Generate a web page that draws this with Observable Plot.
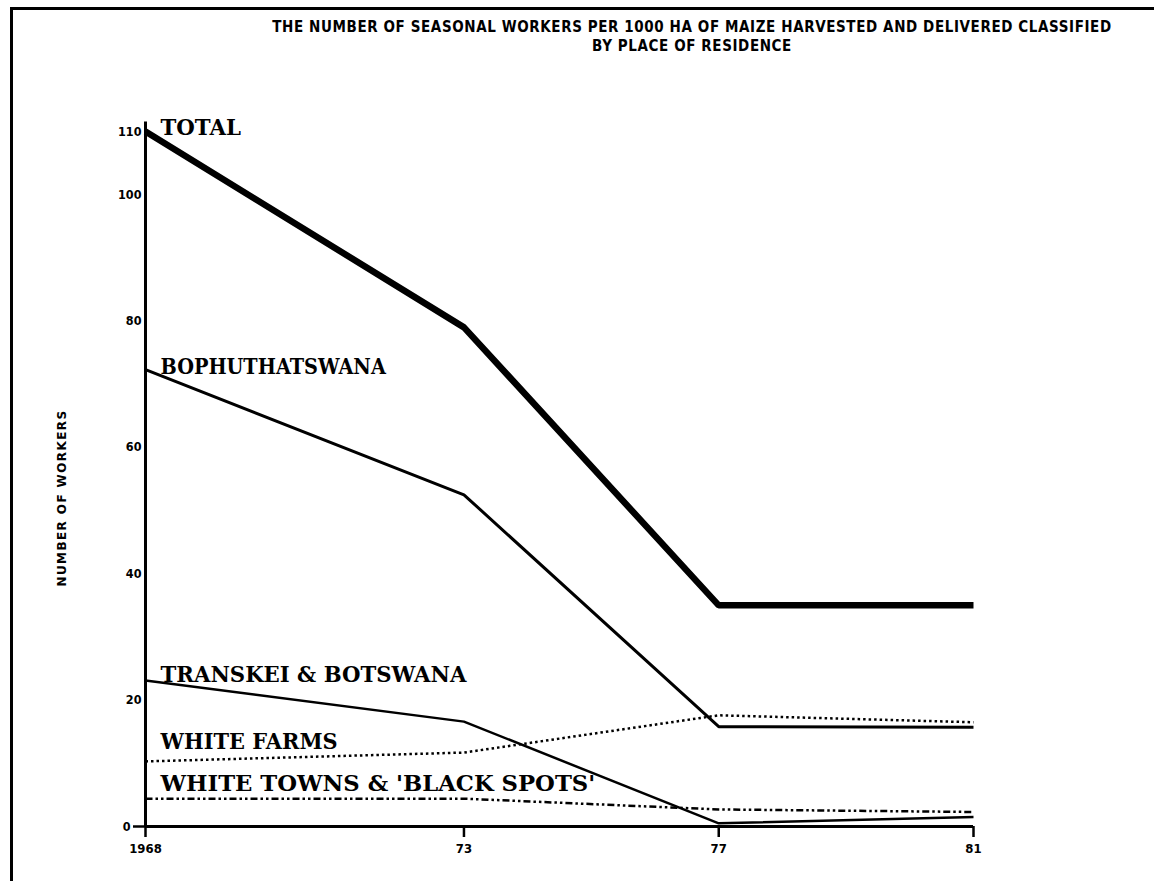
<!DOCTYPE html>
<html>
<head>
<meta charset="utf-8">
<script src="https://cdn.jsdelivr.net/npm/d3@7"></script>
<script src="https://cdn.jsdelivr.net/npm/@observablehq/plot@0.6"></script>
<style>
  html, body { margin: 0; padding: 0; background: #fff; }
  #wrap { position: relative; width: 1154px; height: 881px; overflow: hidden; background: #fff; }
  #frame { position: absolute; left: 10px; top: 7px; width: 1160px; height: 900px;
           border-left: 3px solid #000; border-top: 3px solid #000; }
  #title { position: absolute; left: 0; top: 18px; width: 1154px; padding-left: 230px; box-sizing: border-box;
           text-align: center; font-family: "DejaVu Sans Condensed", "DejaVu Sans", sans-serif;
           font-weight: bold; font-size: 15px; line-height: 19px; color: #000; letter-spacing: 0.6px; }
  #chart { position: absolute; left: 0; top: 0; }
  #ylabel { position: absolute; left: 62px; top: 498px; transform: translate(-50%, -50%) rotate(-90deg);
            white-space: nowrap; font-family: "DejaVu Sans", sans-serif; font-weight: bold; font-size: 12px;
            letter-spacing: 1.4px; color: #000; }
</style>
</head>
<body>
<div id="wrap">
  <div id="frame"></div>
  <div id="title">THE NUMBER OF SEASONAL WORKERS PER 1000 HA OF MAIZE HARVESTED AND DELIVERED CLASSIFIED<br>BY PLACE OF RESIDENCE</div>
  <div id="chart"></div>
  <div id="ylabel">NUMBER OF WORKERS</div>
</div>
<script>
// ---- data ----
const years = [1968, 1973, 1977, 1981];
const xTickLabels = ["1968", "73", "77", "81"];
const yTicks = [0, 20, 40, 60, 80, 100, 110];

const total          = [110, 79, 35, 35];
const bophuthatswana = [72.3, 52.5, 15.8, 15.7];
const transkeiBots   = [23.1, 16.6, 0.5, 1.5];
const whiteFarms     = [10.3, 11.7, 17.6, 16.5];
const whiteTowns     = [4.4, 4.4, 2.7, 2.3];

const seriesNames = ["TOTAL", "BOPHUTHATSWANA", "TRANSKEI & BOTSWANA", "WHITE FARMS", "WHITE TOWNS & 'BLACK SPOTS'"];
const seriesValues = [total, bophuthatswana, transkeiBots, whiteFarms, whiteTowns];

// ---- styles ----
const styles = {
  "TOTAL": {strokeWidth: 6.5, dash: null, labelDy: 3},
  "BOPHUTHATSWANA": {strokeWidth: 3, dash: null, labelDy: 4},
  "TRANSKEI & BOTSWANA": {strokeWidth: 2.5, dash: null, labelDy: 1},
  "WHITE FARMS": {strokeWidth: 2.5, dash: "2.5,3", labelDy: -12},
  "WHITE TOWNS & 'BLACK SPOTS'": {strokeWidth: 2.5, dash: "7,3,2.5,3,2.5,3", labelDy: -8}
};
const labelCharWidth = 16.1;

const rows = [];
seriesNames.forEach((name, i) => years.forEach((yr, j) => rows.push({series: name, year: yr, value: seriesValues[i][j]})));
const labelRows = seriesNames.map((name, i) => ({series: name, year: years[0], value: seriesValues[i][0]}));

const lineMarks = seriesNames.map(name => Plot.line(rows.filter(d => d.series === name), {
  x: "year", y: "value", stroke: "#000", strokeWidth: styles[name].strokeWidth,
  strokeDasharray: styles[name].dash, strokeLinejoin: "miter", strokeLinecap: "butt"
}));

const labelMarks = seriesNames.map(name => Plot.text(labelRows.filter(d => d.series === name), {
  x: "year", y: "value", text: "series", textAnchor: "start", lineAnchor: "bottom",
  dx: 15, dy: styles[name].labelDy, fill: "#000", className: "serieslabel",
  fontFamily: "'DejaVu Serif', serif", fontWeight: "bold", fontSize: 22
}));

const chart = Plot.plot({
  width: 1154, height: 881,
  marginLeft: 145, marginRight: 181, marginTop: 131, marginBottom: 55,
  style: {background: "transparent", color: "#000", overflow: "visible"},
  x: {domain: [1968, 1981], axis: null},
  y: {domain: [0, 110], axis: null},
  marks: [
    Plot.ruleX([years[0]], {y1: 0, y2: 111.5, stroke: "#000", strokeWidth: 3}),
    Plot.ruleY([0], {x1: years[0], x2: years[years.length - 1], stroke: "#000", strokeWidth: 3}),
    Plot.axisX({ticks: years, tickFormat: d => xTickLabels[years.indexOf(d)], tickSize: 11, tickPadding: 6,
      strokeWidth: 2.5, fontSize: 13, fontWeight: "bold", fontFamily: "'DejaVu Sans Condensed', sans-serif", label: null}),
    Plot.axisY({ticks: yTicks.filter(t => t !== 0), tickSize: 0, tickPadding: 4, fontSize: 12.5, fontWeight: "bold",
      fontFamily: "'DejaVu Sans Condensed', sans-serif", label: null}),
    Plot.axisY({ticks: [0], tickSize: 12, tickPadding: 3, strokeWidth: 2.5, fontSize: 12.5, fontWeight: "bold",
      fontFamily: "'DejaVu Sans Condensed', sans-serif", label: null}),
    ...lineMarks,
    ...labelMarks
  ]
});
d3.select(chart).selectAll("g.serieslabel text").each(function() {
  const t = this.textContent;
  this.setAttribute("textLength", (t.length * labelCharWidth).toFixed(1));
  this.setAttribute("lengthAdjust", "spacingAndGlyphs");
});
document.getElementById("chart").appendChild(chart);
</script>
</body>
</html>
